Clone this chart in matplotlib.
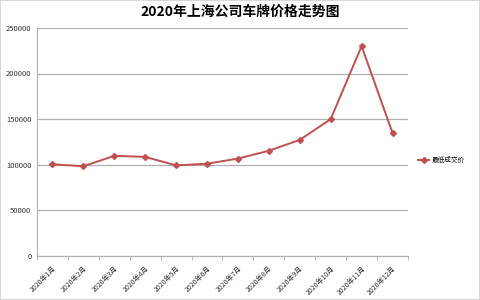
import matplotlib.pyplot as plt
from matplotlib.patches import Rectangle

plt.rcParams['font.family'] = ['Noto Sans CJK SC', 'DejaVu Sans']

months = ["2020年1月", "2020年2月", "2020年3月", "2020年4月", "2020年5月", "2020年6月",
          "2020年7月", "2020年8月", "2020年9月", "2020年10月", "2020年11月", "2020年12月"]
prices = [100500, 98300, 109700, 108600, 99200, 101100,
          106700, 115300, 127200, 150000, 230000, 134700]
yticks = [0, 50000, 100000, 150000, 200000, 250000]

red = "#C0504D"
grid = "#B0B0B0"

fig = plt.figure(figsize=(4.8, 3), dpi=100)
fig.patches.append(Rectangle((0, 0), 1, 1, transform=fig.transFigure,
                             fill=False, edgecolor="#D0D0D0", linewidth=1.2))
ax = fig.add_axes([0.077, 0.147, 0.773, 0.76])

x = list(range(len(months)))
ax.plot(x, prices, color=red, linewidth=1.4, marker="D", markersize=3,
        label="最低成交价")

ax.set_xlim(-0.5, len(months) - 0.5)
ax.set_ylim(0, 250000)
ax.set_yticks(yticks)
ax.set_yticklabels([str(v) for v in yticks], fontsize=5.5, color="#333333")
ax.yaxis.grid(True, color=grid, linewidth=0.9)
ax.set_axisbelow(True)
ax.tick_params(axis="y", length=0, pad=4)

ax.set_xticks(x)
ax.set_xticklabels(months, fontsize=5, rotation=45, ha="right",
                   rotation_mode="anchor", color="#333333")
ax.set_xticks([i - 0.5 for i in range(len(months) + 1)], minor=True)
ax.tick_params(axis="x", which="major", length=0, pad=6)
ax.tick_params(axis="x", which="minor", length=3, color=grid)

for side in ["top", "right"]:
    ax.spines[side].set_visible(False)
for side in ["left", "bottom"]:
    ax.spines[side].set_color(grid)

fig.suptitle("2020年上海公司车牌价格走势图", fontsize=10, fontweight="bold", y=0.985)

ax.legend(loc="center left", bbox_to_anchor=(1.028, 0.42), frameon=False,
          fontsize=4.8, handlelength=1.6, handletextpad=0.4,
          borderaxespad=0, borderpad=0)

fig.savefig("out.png", dpi=100)
